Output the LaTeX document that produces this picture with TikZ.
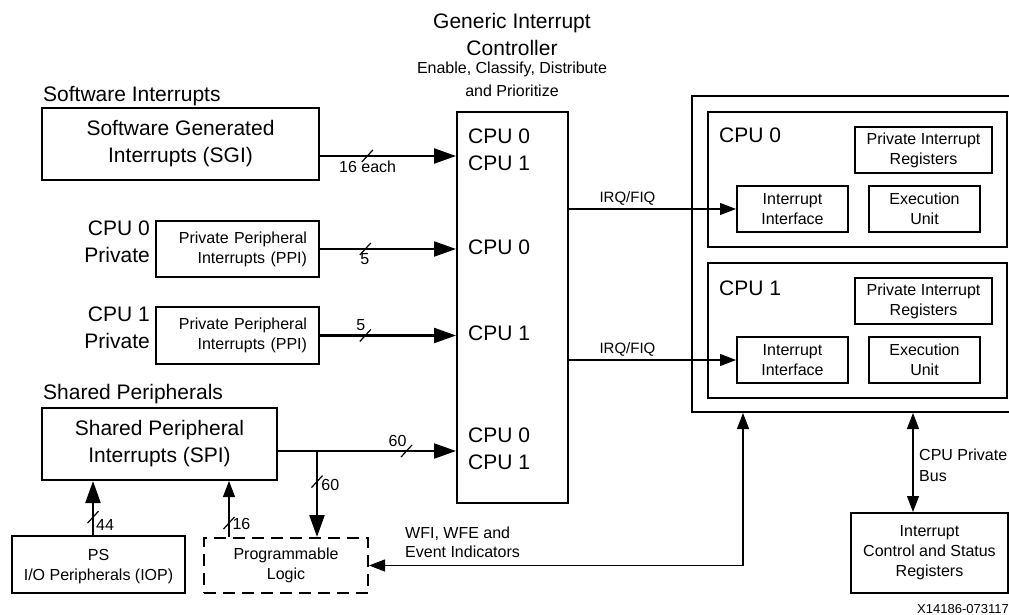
\documentclass[tikz,border=0pt]{standalone}
\usepackage{fontspec}
\setmainfont{Liberation Sans}
\usetikzlibrary{arrows.meta}

\newcommand{\gicbig}{\fontsize{21}{27}\selectfont}
\newcommand{\gicsmall}{\fontsize{16}{20}\selectfont}
\newcommand{\gictiny}{\fontsize{13}{16}\selectfont}
% little slash across a bus, #1 = coordinate on the bus
\newcommand{\busmark}[1]{\draw[line width=1.2pt] ([shift={(-5.5,6)}]#1) -- ([shift={(5.5,-6)}]#1);}

\begin{document}
\begin{tikzpicture}[x=1pt, y=-1pt, >={Triangle[length=22pt,width=15pt]}]
        \tikzstyle{block} = [draw, rectangle, line width=2pt, inner sep=0pt, align=center]
        \tikzstyle{lbl} = [inner sep=0pt]
        \tikzstyle{bus} = [line width=2.3pt, ->]
        \tikzstyle{sig} = [line width=1.2pt, -{Triangle[length=16pt,width=12pt]}]
        \tikzstyle{sigboth} = [line width=1.2pt, {Triangle[length=16pt,width=12pt]}-{Triangle[length=16pt,width=12pt]}]

        \useasboundingbox (0,0) rectangle (1009,615);
        \clip (0,0) rectangle (1009,615);

        % interrupt sources
        \node [lbl, anchor=base west, font=\gicbig] (sgi-title) at (43,102) {Software Interrupts};
        \node [block, minimum width=277pt, minimum height=72pt, font=\gicbig] (sgi) at (180.5,144) {Software Generated\\Interrupts (SGI)};

        \node [lbl, anchor=east, align=right, font=\gicbig] (ppi0-title) at (150,241.5) {CPU 0\\Private};
        \node [block, text width=139pt, inner xsep=12pt, align=right, minimum height=56pt, font=\gicsmall] (ppi0) at (237.5,249) {Private Peripheral\\Interrupts (PPI)};

        \node [lbl, anchor=east, align=right, font=\gicbig] (ppi1-title) at (150,328) {CPU 1\\Private};
        \node [block, text width=139pt, inner xsep=12pt, align=right, minimum height=57pt, font=\gicsmall] (ppi1) at (237.5,335.5) {Private Peripheral\\Interrupts (PPI)};

        \node [lbl, anchor=base west, font=\gicbig] (spi-title) at (43,399) {Shared Peripherals};
        \node [block, minimum width=235pt, minimum height=72pt, font=\gicbig] (spi) at (159.5,444) {Shared Peripheral\\Interrupts (SPI)};

        \node [block, minimum width=173pt, minimum height=57pt, font=\gicsmall, text depth=0pt] (iop) at (98.5,564.5) {PS\\I/O Peripherals (IOP)};
        \node [block, dash pattern=on 12pt off 7pt, minimum width=164pt, minimum height=55pt, font=\gicsmall] (pl) at (286,565.5) {Programmable\\Logic};

        % distributor
        \node [font=\gicbig, align=center] (gic-title) at (512,34) {Generic Interrupt\\Controller};
        \node [font=\fontsize{16}{23}\selectfont, align=center] (gic-func) at (512,79.5) {Enable, Classify, Distribute\\and Prioritize};
        \node [block, minimum width=111pt, minimum height=391pt] (gic) at (512.5,307.5) {};
        \node [lbl, anchor=west, align=left, font=\gicbig] (gic-sgi) at (468,149.5) {CPU 0\\CPU 1};
        \node [lbl, anchor=west, font=\gicbig] (gic-ppi0) at (468,247) {CPU 0};
        \node [lbl, anchor=west, font=\gicbig] (gic-ppi1) at (468,333) {CPU 1};
        \node [lbl, anchor=west, align=left, font=\gicbig] (gic-spi) at (468,449) {CPU 0\\CPU 1};

        % cpus
        \node [block, minimum width=333pt, minimum height=316pt] (cpus) at (858.5,254) {};
        \node [block, minimum width=299pt, minimum height=135pt] (cpu0) at (857.5,179.5) {};
        \node [lbl, anchor=west, font=\gicbig] (cpu0-name) at (719,135) {CPU 0};
        \node [block, minimum width=137pt, minimum height=46pt, font=\gicsmall] (pir0) at (923.5,150) {Private Interrupt\\Registers};
        \node [block, minimum width=111pt, minimum height=46pt, font=\gicsmall] (ii0) at (792.5,209) {Interrupt\\Interface};
        \node [block, minimum width=111pt, minimum height=46pt, font=\gicsmall] (eu0) at (924.5,209) {Execution\\Unit};

        \node [block, minimum width=299pt, minimum height=135pt] (cpu1) at (857.5,330.5) {};
        \node [lbl, anchor=west, font=\gicbig] (cpu1-name) at (719,288) {CPU 1};
        \node [block, minimum width=137pt, minimum height=46pt, font=\gicsmall] (pir1) at (923.5,301) {Private Interrupt\\Registers};
        \node [block, minimum width=111pt, minimum height=46pt, font=\gicsmall] (ii1) at (792.5,360) {Interrupt\\Interface};
        \node [block, minimum width=111pt, minimum height=46pt, font=\gicsmall] (eu1) at (924.5,360) {Execution\\Unit};

        \node [block, minimum width=157pt, minimum height=80pt, font=\gicsmall] (icsr) at (929.5,553) {Interrupt\\Control and Status\\Registers};

        % buses into the distributor
        \draw [bus] ([yshift=-12pt]sgi.east) coordinate (sgi-out) -- coordinate[pos=0.348] (m-sgi) node[pos=0.35, below, font=\gicsmall] {16 each} (sgi-out -| gic.west);
        \busmark{m-sgi}
        \draw [bus] (ppi0.east) -- coordinate[pos=0.333] (m-ppi0) node[pos=0.33, below, font=\gicsmall] {5} (ppi0.east -| gic.west);
        \busmark{m-ppi0}
        \draw [bus] (ppi1.east) -- coordinate[pos=0.333] (m-ppi1) node[pos=0.33, above, xshift=-4pt, font=\gicsmall] {5} (ppi1.east -| gic.west);
        \busmark{m-ppi1}
        \draw [bus] ([yshift=-7pt]spi.east) coordinate (spi-out) -- coordinate[pos=0.722] (m-spi) node[pos=0.672, above, font=\gicsmall] {60} (spi-out -| gic.west);
        \busmark{m-spi}
        \coordinate (spi-tap) at ([xshift=39pt]spi-out);
        \draw [bus] (spi-tap) -- coordinate[pos=0.356] (m-tap) node[pos=0.4, right, font=\gicsmall] {60} (spi-tap |- pl.north);
        \busmark{m-tap}

        % sources of the shared interrupts
        \draw [bus] ([xshift=-5.5pt]iop.north) -- coordinate[pos=0.33] (m-iop) node[pos=0.185, right, inner sep=2pt, font=\gicsmall] {44} ([xshift=-5.5pt]iop.north |- spi.south);
        \busmark{m-iop}
        \draw [sig] ([xshift=-57pt]pl.north) -- coordinate[pos=0.25] (m-pl) node[pos=0.23, right, inner sep=3pt, font=\gicsmall] {16} ([xshift=-57pt]pl.north |- spi.south);
        \busmark{m-pl}

        % distributor to cpus
        \draw [sig] (gic.east |- ii0.west) -- node[pos=0.35, above, font=\fontsize{15}{18}\selectfont] {IRQ/FIQ} (ii0.west);
        \draw [sig] (gic.east |- ii1.west) -- node[pos=0.35, above, font=\fontsize{15}{18}\selectfont] {IRQ/FIQ} (ii1.west);

        \draw [sigboth] ([xshift=52pt]cpus.south west) |- (pl.east);
        \node [lbl, anchor=west, align=left, font=\fontsize{16}{19}\selectfont] (wfi) at (405,542.5) {WFI, WFE and\\Event Indicators};

        \draw [sigboth] ([xshift=-16.5pt]icsr.north) -- ([xshift=-16.5pt]icsr.north |- cpus.south);
        \node [lbl, anchor=west, align=left, font=\fontsize{16}{21}\selectfont] (cpu-bus) at (919,465) {CPU Private\\Bus};

        \node [lbl, anchor=west, font=\gictiny] (fig-id) at (917,609) {X14186-073117};
    \end{tikzpicture}
\end{document}
